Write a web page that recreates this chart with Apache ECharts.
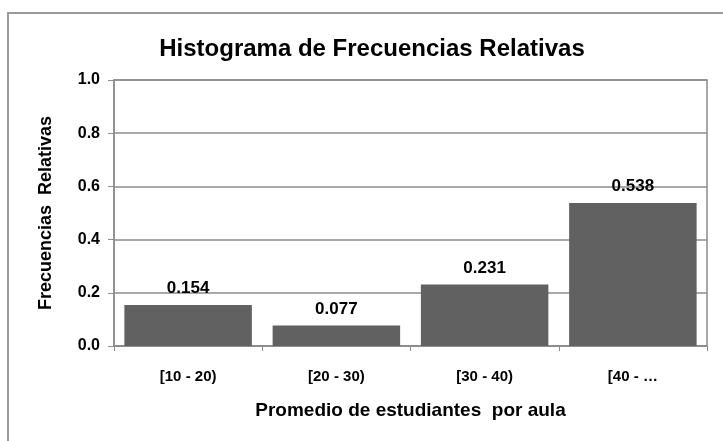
<!DOCTYPE html>
<html>
<head>
<meta charset="utf-8">
<title>Histograma de Frecuencias Relativas</title>
<script src="https://cdn.jsdelivr.net/npm/echarts@6/dist/echarts.min.js"></script>
<style>
  html, body { margin: 0; padding: 0; background: #fff; }
  #chart { width: 723px; height: 441px; }
</style>
</head>
<body>
<div id="chart"></div>
<script>
const categories = ['[10 - 20)', '[20 - 30)', '[30 - 40)', '[40 - …'];
const relFreq = [0.154, 0.077, 0.231, 0.538];
const yTicks = [0, 0.2, 0.4, 0.6, 0.8, 1.0];

const chart = echarts.init(document.getElementById('chart'));
const font = 'Liberation Sans, Arial, sans-serif';
const lineGray = '#8c8c8c';

const option = {
  animation: false,
  textStyle: { fontFamily: font },
  title: {
    text: 'Histograma de Frecuencias Relativas',
    left: 367,
    top: 32,
    textAlign: 'center',
    textStyle: { fontSize: 24, fontWeight: 'bold', color: '#000', fontFamily: font }
  },
  graphic: [
    {
      type: 'rect',
      shape: { x: 8, y: 13, width: 800, height: 500 },
      style: { fill: 'none', stroke: '#9a9a9a', lineWidth: 2 },
      silent: true
    }
  ],
  grid: {
    left: 114,
    right: 16,
    top: 80,
    bottom: 95,
    show: true,
    borderColor: lineGray,
    borderWidth: 1.5
  },
  xAxis: {
    type: 'category',
    data: categories,
    name: 'Promedio de estudiantes  por aula',
    nameLocation: 'middle',
    nameGap: 55,
    nameTextStyle: { fontSize: 19, fontWeight: 'bold', color: '#000' },
    axisLine: { lineStyle: { color: lineGray, width: 1.5 } },
    axisTick: { show: true, alignWithLabel: false, length: 5, lineStyle: { color: lineGray } },
    axisLabel: { margin: 23, fontSize: 15, fontWeight: 'bold', color: '#000' }
  },
  yAxis: {
    type: 'value',
    min: 0,
    max: 1,
    interval: 0.2,
    name: 'Frecuencias  Relativas',
    nameLocation: 'middle',
    nameGap: 59,
    nameTextStyle: { fontSize: 18, fontWeight: 'bold', color: '#000' },
    axisLine: { show: true, lineStyle: { color: lineGray, width: 1.5 } },
    axisTick: { show: true, length: 6, lineStyle: { color: lineGray } },
    splitLine: { show: true, lineStyle: { color: lineGray, width: 1.5 } },
    axisLabel: {
      margin: 14,
      fontSize: 16,
      fontWeight: 'bold',
      color: '#000',
      formatter: v => {
        const t = yTicks.find(x => Math.abs(x - v) < 1e-9);
        return (t !== undefined ? t : v).toFixed(1);
      }
    }
  },
  series: [
    {
      type: 'bar',
      data: relFreq,
      barCategoryGap: '14%',
      itemStyle: { color: '#616161' },
      label: {
        show: true,
        position: 'top',
        distance: 8,
        fontSize: 17,
        fontWeight: 'bold',
        color: '#000',
        formatter: p => p.value.toFixed(3)
      }
    }
  ]
};

chart.setOption(option);
</script>
</body>
</html>
